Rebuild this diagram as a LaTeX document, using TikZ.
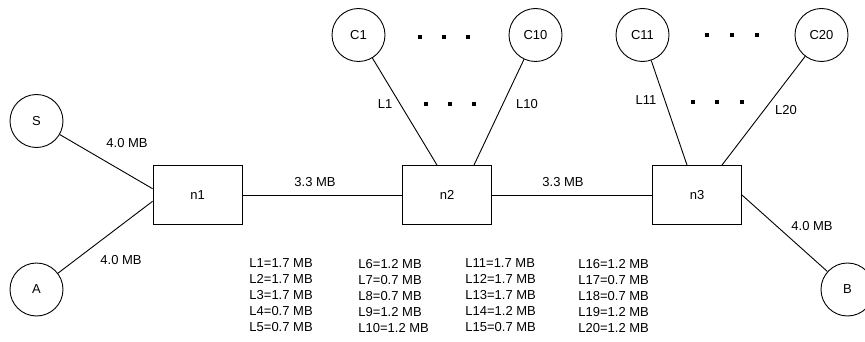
\documentclass[tikz,border=0pt]{standalone}
\usepackage{fontspec}
\setmainfont{Liberation Sans}

\begin{document}
\begin{tikzpicture}[x=1pt,y=-1pt,line width=0.9pt,
  font=\fontsize{13}{16}\selectfont,
  host/.style={draw,circle,minimum size=53pt,inner sep=0pt},
  router/.style={draw,rectangle,minimum width=89pt,minimum height=59pt,inner sep=0pt},
  rate/.style={inner sep=0pt}]
\useasboundingbox (0,0) rectangle (865,342);
% end hosts
\node[host] (S) at (36.5,121) {S};
\node[host] (A) at (36.5,289.5) {A};
\node[host] (B) at (847.5,289.5) {B};
% routers
\node[router] (n1) at (197.5,195) {n1};
\node[router] (n2) at (447,195) {n2};
\node[router] (n3) at (697,195) {n3};
% clients
\node[host] (C1) at (358.5,35) {C1};
\node[host] (C10) at (535.5,35) {C10};
\node[host] (C11) at (642.5,35) {C11};
\node[host] (C20) at (821.5,35) {C20};
% links
\draw (S)--(n1.172);
\draw (A)--(n1.188);
\draw (n1)--(n2);
\draw (n2)--(n3);
\draw (n3.east)--(B);
\draw (C1)--([xshift=-10pt]n2.north);
\draw (C10)--([xshift=27pt]n2.north);
\draw (C11)--([xshift=-10pt]n3.north);
\draw (C20)--([xshift=25pt]n3.north);
% link rates
\node[rate] (rS) at (127,143) {4.0 MB};
\node[rate] (rA) at (121,260) {4.0 MB};
\node[rate] (r12) at (315,182) {3.3 MB};
\node[rate] (r23) at (563,182) {3.3 MB};
\node[rate] (rB) at (812,226) {4.0 MB};
\node[rate] (L1) at (385,104) {L1};
\node[rate] (L10) at (527,104) {L10};
\node[rate] (L11) at (646,100) {L11};
\node[rate] (L20) at (786,110) {L20};
% ellipsis dots
\foreach \xx/\yy in {420/37,444/37,468/37,426/104,450/104,474/104,
                     707/35,732/35,757/35,693/102,717/102,742/102}
  \fill (\xx-1.7,\yy-1.7) rectangle ++(3.4,3.4);
% table of link rates
\node[rate,anchor=north west,align=left] (tab1) at (249,258.5)
  {L1=1.7 MB\\L2=1.7 MB\\L3=1.7 MB\\L4=0.7 MB\\L5=0.7 MB};
\node[rate,anchor=north west,align=left] (tab2) at (358,258.5)
  {L6=1.2 MB\\L7=0.7 MB\\L8=0.7 MB\\L9=1.2 MB\\L10=1.2 MB};
\node[rate,anchor=north west,align=left] (tab3) at (465,258.5)
  {L11=1.7 MB\\L12=1.7 MB\\L13=1.7 MB\\L14=1.2 MB\\L15=0.7 MB};
\node[rate,anchor=north west,align=left] (tab4) at (578,258.5)
  {L16=1.2 MB\\L17=0.7 MB\\L18=0.7 MB\\L19=1.2 MB\\L20=1.2 MB};
\end{tikzpicture}
\end{document}
